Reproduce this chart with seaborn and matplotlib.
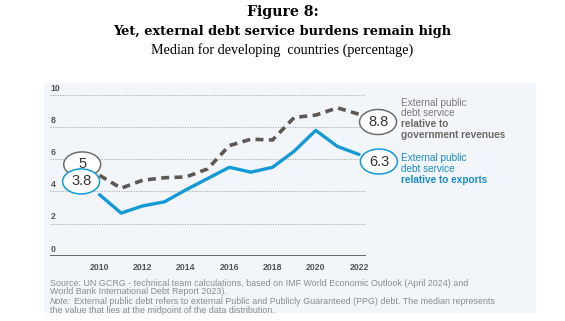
import matplotlib
matplotlib.use("Agg")
import matplotlib.pyplot as plt
import seaborn as sns
import pandas as pd
from matplotlib.patches import Ellipse, Rectangle

# ---- data ----
years = [2010, 2011, 2012, 2013, 2014, 2015, 2016, 2017, 2018, 2019, 2020, 2021, 2022]
gov_revenues = [5.0, 4.2, 4.7, 4.85, 4.9, 5.4, 6.85, 7.25, 7.2, 8.6, 8.75, 9.2, 8.8]
exports = [3.8, 2.65, 3.1, 3.35, 4.1, 4.8, 5.5, 5.2, 5.5, 6.5, 7.8, 6.8, 6.3]
x_ticks = [2010, 2012, 2014, 2016, 2018, 2020, 2022]
y_ticks = [0, 2, 4, 6, 8, 10]
first_labels = ["5", "3.8"]
last_labels = ["8.8", "6.3"]

GRAY = "#5e5753"
BLUE = "#139ad6"
GRAY_TXT = "#7f7975"
BLUE_TXT = "#1a8ccc"

df = pd.DataFrame({"year": years * 2,
                   "value": gov_revenues + exports,
                   "series": ["gov"] * len(years) + ["exp"] * len(years)})

sns.set_theme(style="white")
plt.rcParams["font.family"] = ["Liberation Sans", "DejaVu Sans"]

W, H = 565, 321
fig = plt.figure(figsize=(W / 100, H / 100), dpi=100)

def fx(px):
    return px / W

def fy(py):
    return 1 - py / H

# panel background
fig.patches.append(Rectangle((fx(44), fy(313)), fx(536) - fx(44), fy(83) - fy(313),
                             transform=fig.transFigure, facecolor="#f2f6fb",
                             edgecolor="none", zorder=-5))

# axes: left=50px, right=366px, top (y=10)=95px, bottom (y=0)=255.7px
ax = fig.add_axes([fx(50), fy(255.7), fx(366) - fx(50), fy(95) - fy(255.7)])
ax.set_zorder(1)
ax.set_facecolor("none")
ax.patch.set_alpha(0)
px_per_year = (359 - 99.5) / 12
ax.set_xlim(2010 - (99.5 - 50) / px_per_year, 2022 + (366 - 359) / px_per_year)
ax.set_ylim(0, 10)

sns.lineplot(data=df[df.series == "gov"], x="year", y="value", ax=ax,
             color=GRAY, lw=2.6, legend=False, zorder=3)
ax.lines[-1].set_dashes([2.2, 1.5])
ax.lines[-1].set_clip_on(False)
sns.lineplot(data=df[df.series == "exp"], x="year", y="value", ax=ax,
             color=BLUE, lw=2.4, legend=False, zorder=4)
ax.lines[-1].set_clip_on(False)

# grid
for v in y_ticks[1:]:
    ax.axhline(v, color="#a9acb0", lw=0.8, ls=(0, (1, 1.2)), zorder=1)
ax.axhline(0, color="#5c5c5c", lw=2.0, zorder=2)

for s in ax.spines.values():
    s.set_visible(False)
ax.set_yticks([])
ax.set_xticks(x_ticks)
ax.set_xticklabels([str(t) for t in x_ticks], fontsize=6.3, fontweight="bold", color="#555555")
ax.tick_params(axis="x", length=0, pad=5)
ax.set_xlabel("")
ax.set_ylabel("")

# y tick labels above gridlines
for v in y_ticks:
    ax.annotate(str(v), xy=(0, v), xycoords=("axes fraction", "data"),
                xytext=(0.5, 1.5), textcoords="offset points",
                ha="left", va="bottom", fontsize=6.3, color="#555555", fontweight="bold")

# ellipse labels
ew = 37 / px_per_year
eh = 25 / 16.07

def ell(xc, yc, color, label, z):
    e = Ellipse((xc, yc), ew, eh, facecolor="white", edgecolor=color, lw=1.1,
                zorder=z, clip_on=False)
    ax.add_patch(e)
    ax.text(xc, yc, label, ha="center", va="center", fontsize=10.5, color="#333333",
            zorder=z + 0.5, clip_on=False)

ell(years[0] - 0.8, gov_revenues[0] + 0.68, "#6e6e6e", first_labels[0], 5)
ell(years[0] - 0.85, exports[0] + 0.82, BLUE, first_labels[1], 6)
ell(years[-1] + 0.88, gov_revenues[-1] - 0.48, "#6e6e6e", last_labels[0], 5)
ell(years[-1] + 0.92, exports[-1] - 0.44, BLUE, last_labels[1], 6)

# right-side labels
tx = fx(401)
gray_lines = [("External public", "normal"), ("debt service", "normal"),
              ("relative to", "bold"), ("government revenues", "bold")]
for i, (t, w) in enumerate(gray_lines):
    fig.text(tx, fy(102.7 + i * 10.7), t, fontsize=7.2, fontweight=w,
             color=GRAY_TXT if w == "normal" else "#6f6863", va="center", ha="left")
blue_lines = [("External public", "normal"), ("debt service", "normal"),
              ("relative to exports", "bold")]
for i, (t, w) in enumerate(blue_lines):
    fig.text(tx, fy(158.3 + i * 10.8), t, fontsize=7.2, fontweight=w,
             color=BLUE_TXT, va="center", ha="left")

# source / note
src_col = "#8a8a8a"
fs_src = 6.4
fig.text(fx(50), fy(283), "Source: UN GCRG - technical team calculations, based on IMF World Economic Outlook (April 2024) and",
         fontsize=fs_src, color=src_col, va="center")
fig.text(fx(50), fy(291.5), "World Bank International Debt Report 2023).",
         fontsize=fs_src, color=src_col, va="center")
fig.text(fx(50), fy(302), "Note:", fontsize=fs_src, color=src_col, va="center", style="italic")
fig.text(fx(73.5), fy(302), "External public debt refers to external Public and Publicly Guaranteed (PPG) debt. The median represents",
         fontsize=fs_src, color=src_col, va="center")
fig.text(fx(50), fy(310.5), "the value that lies at the midpoint of the data distribution.",
         fontsize=fs_src, color=src_col, va="center")

# titles
serif = ["DejaVu Serif"]
fig.text(0.5, fy(12), "Figure 8:", family=serif, fontsize=10.2, fontweight="bold",
         ha="center", va="center", color="black")
fig.text(0.5, fy(31), "Yet, external debt service burdens remain high", family=serif,
         fontsize=9.3, fontweight="bold", ha="center", va="center", color="black")
fig.text(0.5, fy(50), "Median for developing  countries (percentage)",
         family=["Liberation Serif", "DejaVu Serif"],
         fontsize=10.2, ha="center", va="center", color="black")

fig.savefig("out.png", dpi=100, facecolor="white")
